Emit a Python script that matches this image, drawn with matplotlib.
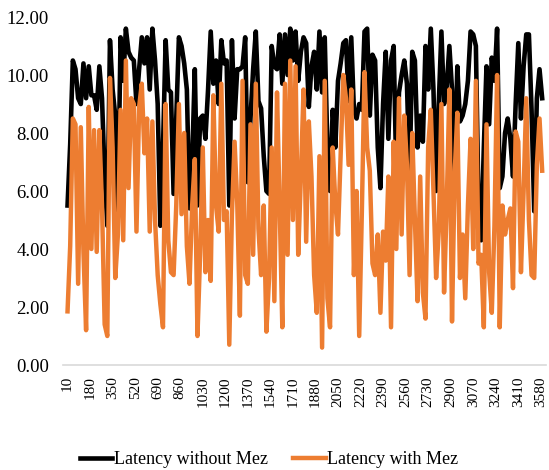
import matplotlib.pyplot as plt

# request sizes, sampled every 20 units (10, 30, ..., 3590)
sizes = list(range(10, 3600, 20))

# latency without Mez
latency_without = [
    5.5, 7.6, 10.5, 10.2, 9.2, 9.0, 10.4, 9.2, 10.3, 9.3,
    9.3, 8.8, 10.3, 9.2, 6.5, 4.8, 11.2, 9.5, 8.6, 5.3,
    11.3, 9.8, 11.6, 10.8, 10.6, 10.5, 9.0, 10.2, 11.3, 10.4,
    11.3, 9.5, 11.6, 10.5, 9.0, 4.8, 7.5, 11.2, 9.5, 9.4,
    5.9, 8.5, 11.3, 11.0, 10.4, 9.5, 5.4, 7.0, 10.2, 5.5,
    8.5, 8.6, 7.8, 9.5, 11.5, 9.7, 10.5, 9.0, 11.2, 10.4,
    10.5, 5.5, 11.2, 8.5, 10.2, 10.2, 10.3, 11.3, 6.3, 8.5,
    10.2, 11.5, 9.1, 8.85, 7.2, 6.0, 5.9, 11.0, 10.3, 10.2,
    11.4, 9.7, 11.4, 10.0, 11.6, 10.5, 11.5, 9.8, 10.8, 11.3,
    11.1, 8.9, 10.3, 10.8, 9.5, 11.5, 9.4, 11.3, 7.5, 6.0,
    8.8, 7.5, 9.8, 10.4, 11.1, 11.2, 9.1, 11.3, 8.8, 8.5,
    9.0, 8.8, 11.5, 11.6, 8.6, 10.7, 10.5, 7.5, 6.1, 9.0,
    10.8, 7.8, 10.5, 11.0, 6.5, 9.4, 10.0, 10.5, 9.7, 6.5,
    10.8, 10.5, 7.5, 8.6, 7.7, 11.0, 9.5, 11.6, 9.5, 6.0,
    9.0, 11.5, 9.0, 9.6, 11.0, 9.5, 6.6, 10.3, 8.4, 8.6,
    9.0, 9.8, 11.5, 11.4, 11.0, 5.5, 4.3, 7.5, 10.3, 8.3,
    10.6, 9.8, 11.6, 6.1, 6.5, 8.0, 8.5, 7.8, 6.5, 9.0,
    11.1, 8.5, 10.3, 11.4, 11.4, 8.8, 5.3, 9.2, 10.2, 9.2,
]

# latency with Mez
latency_with = [
    1.85, 4.1, 8.5, 8.3, 2.8, 8.2, 3.9, 1.2, 8.9, 4.0,
    8.1, 3.9, 8.1, 5.5, 1.4, 1.0, 9.9, 7.5, 3.0, 4.5,
    8.8, 4.3, 10.5, 6.1, 9.2, 9.0, 4.6, 8.9, 9.7, 7.3,
    8.5, 4.6, 8.4, 5.0, 3.1, 2.1, 1.3, 9.0, 4.3, 3.2,
    3.1, 5.5, 9.0, 5.2, 8.0, 4.1, 2.8, 5.5, 7.1, 1.0,
    3.8, 7.5, 3.2, 5.0, 2.9, 9.3, 5.5, 4.6, 9.7, 5.0,
    5.3, 0.7, 5.2, 7.7, 5.6, 1.7, 9.8, 3.1, 2.8, 8.3,
    3.8, 9.7, 4.7, 3.1, 5.5, 1.15, 3.0, 7.5, 2.2, 9.4,
    5.5, 1.3, 9.7, 3.8, 10.5, 5.0, 10.3, 3.8, 6.5, 9.5,
    4.25, 8.4, 6.5, 3.1, 1.8, 7.2, 0.6, 9.8, 2.3, 1.3,
    7.5, 5.6, 4.5, 7.2, 10.0, 9.2, 6.9, 9.5, 3.1, 6.0,
    1.0, 5.3, 10.1, 7.5, 6.7, 3.5, 3.1, 4.5, 1.8, 4.6,
    3.6, 6.5, 1.3, 7.7, 4.0, 9.2, 4.5, 8.6, 6.9, 3.1,
    8.0, 5.0, 2.2, 6.5, 2.5, 1.6, 7.5, 8.8, 6.0, 3.0,
    4.6, 9.0, 2.5, 5.5, 9.5, 1.5, 6.6, 8.7, 3.0, 4.5,
    2.3, 5.5, 7.8, 4.0, 9.8, 3.5, 3.8, 1.3, 8.3, 3.2,
    1.8, 4.8, 10.0, 1.3, 5.5, 4.5, 5.0, 5.4, 2.65, 8.05,
    7.7, 3.2, 6.0, 9.2, 5.0, 3.1, 3.0, 6.9, 8.5, 6.7,
]

tick_labels = ['10', '180', '350', '520', '690', '860', '1030', '1200', '1370',
               '1540', '1710', '1880', '2050', '2220', '2390', '2560', '2730',
               '2900', '3070', '3240', '3410', '3580']
y_ticks = [0, 2, 4, 6, 8, 10, 12]

plt.rcParams['font.family'] = ['Liberation Serif', 'DejaVu Serif']

fig = plt.figure(figsize=(5.49, 4.70), dpi=100)
ax = fig.add_axes([0.1148, 0.2234, 0.8800, 0.7404])

ax.plot(sizes, latency_without, color='black', linewidth=3.3, label='Latency without Mez')
ax.plot(sizes, latency_with, color='#ED7D31', linewidth=3.2, label='Latency with Mez')

ax.set_ylim(0, 12)
ax.set_xlim(-24, 3620)
ax.set_yticks(y_ticks)
ax.set_yticklabels([f'{v:.2f}' for v in y_ticks], fontsize=13.5)
ax.set_xticks([int(t) for t in tick_labels])
ax.set_xticklabels(tick_labels, rotation=90, fontsize=11)
ax.tick_params(axis='both', length=0)
ax.tick_params(axis='y', pad=10)
ax.tick_params(axis='x', pad=8)

for side in ['top', 'right', 'left']:
    ax.spines[side].set_visible(False)
ax.spines['bottom'].set_color('#d9d9d9')
ax.spines['bottom'].set_linewidth(1.2)

fig.legend(loc='center', bbox_to_anchor=(0.49, 0.022), ncol=2, frameon=False,
           fontsize=13, handlelength=1.8, handletextpad=0.1, columnspacing=1.4)

fig.savefig('out.png', dpi=100)
